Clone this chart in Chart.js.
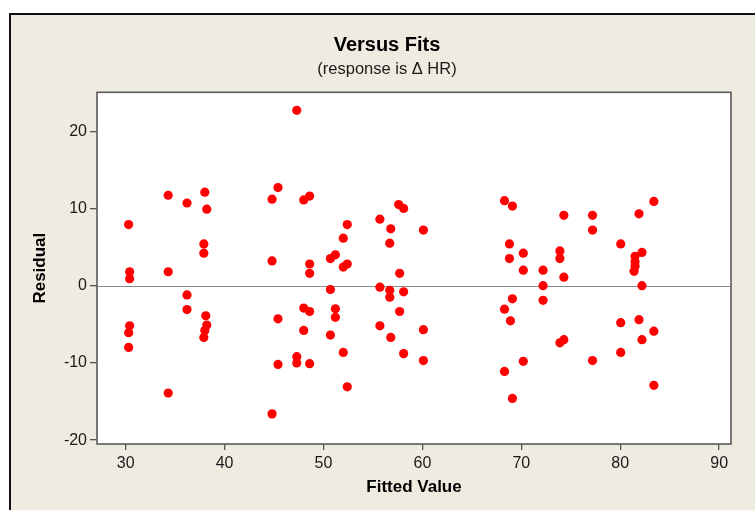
<!DOCTYPE html>
<html>
<head>
<meta charset="utf-8">
<script src="https://cdn.jsdelivr.net/npm/chart.js@4"></script>
<style>
  html, body { margin: 0; padding: 0; background: #ffffff; overflow: hidden; }
  #wrap { position: relative; width: 755px; height: 510px; }
  #frame { position: absolute; left: 9px; top: 13px; width: 800px; height: 600px;
           background: #EFEBE1; border-left: 2px solid #111; border-top: 2px solid #111; }
  canvas { position: absolute; left: 0; top: 0; }
</style>
</head>
<body>
<div id="wrap">
  <div id="frame"></div>
  <canvas id="c" width="755" height="510"></canvas>
</div>
<script>
// ---- data ----
const fittedValues = [
  30.3, 30.4, 30.4, 30.4, 30.3, 30.3,
  34.3, 34.3, 34.3,
  36.2, 36.2, 36.2,
  38.0, 38.2, 37.9, 37.9, 38.1, 38.2, 38.0, 37.9,
  44.8, 45.4, 44.8, 45.4, 45.4, 44.8,
  47.3, 47.3, 47.3,
  48.0, 48.0, 48.0,
  48.6, 48.6, 48.6, 48.6, 48.6,
  50.7, 50.7, 50.7,
  51.2, 51.2, 51.2,
  52.0, 52.0, 52.0,
  52.4, 52.4, 52.4,
  55.7, 55.7, 55.7,
  56.8, 56.7, 56.7, 56.7, 56.8,
  57.6, 58.1, 57.7, 57.7, 58.1, 58.1,
  60.1, 60.1, 60.1,
  68.3, 68.3, 68.3,
  69.1, 68.8, 68.8, 69.1, 68.9, 69.1,
  70.2, 70.2, 70.2,
  72.2, 72.2, 72.2,
  74.3, 73.9, 73.9, 74.3, 74.3, 73.9,
  77.2, 77.2, 77.2,
  80.05, 80.05, 80.05,
  81.9, 82.2, 81.5, 81.5, 81.5, 81.4, 82.2, 81.9, 82.2,
  83.4, 83.4, 83.4
];
const residuals = [
  7.9, 1.8, 0.9, -5.2, -6.1, -8.0,
  11.7, 1.8, -13.9,
  10.7, -1.2, -3.1,
  12.1, 9.9, 5.4, 4.2, -3.9, -5.1, -5.8, -6.7,
  11.2, 12.7, 3.2, -4.3, -10.2, -16.6,
  22.7, -9.2, -10.0,
  11.1, -2.9, -5.8,
  11.6, 2.8, 1.6, -3.35, -10.1,
  3.5, -0.5, -6.4,
  4.0, -3.0, -4.1,
  6.15, 2.4, -8.65,
  7.9, 2.8, -13.1,
  8.6, -0.2, -5.2,
  7.35, 5.5, -0.6, -1.5, -6.7,
  10.5, 10.0, 1.6, -3.35, -0.8, -8.8,
  7.2, -5.7, -9.7,
  11.0, -3.05, -11.1,
  10.3, 5.4, 3.5, -1.7, -4.55, -14.6,
  4.2, 2.0, -9.8,
  2.0, 0.0, -1.9,
  9.1, 4.5, 3.5, 1.1, -7.0, -7.4,
  9.1, 7.2, -9.7,
  5.4, -4.8, -8.65,
  9.3, 4.3, 3.8, 3.1, 2.5, 1.85, 0.0, -4.4, -7.0,
  10.9, -5.9, -12.9
];
const xTickValues = [30, 40, 50, 60, 70, 80, 90];
const yTickValues = [-20, -10, 0, 10, 20];
const titleText = 'Versus Fits';
const subtitleText = '(response is \u0394 HR)';
const xTitle = 'Fitted Value';
const yTitle = 'Residual';

const points = fittedValues.map((x, i) => ({ x: x, y: residuals[i] }));

const framePlugin = {
  id: 'framePlugin',
  beforeDatasetsDraw(chart) {
    const { ctx, chartArea: a, scales } = chart;
    ctx.save();
    ctx.fillStyle = '#ffffff';
    ctx.fillRect(a.left, a.top, a.right - a.left, a.bottom - a.top);
    const y0 = Math.round(scales.y.getPixelForValue(0)) + 0.5;
    ctx.strokeStyle = '#8a8a8a';
    ctx.lineWidth = 1.2;
    ctx.beginPath();
    ctx.moveTo(a.left, y0);
    ctx.lineTo(a.right, y0);
    ctx.stroke();
    ctx.strokeStyle = '#5a5a5a';
    ctx.lineWidth = 1.6;
    ctx.strokeRect(a.left, a.top, a.right - a.left, a.bottom - a.top);
    ctx.restore();
  }
};

const tickFont = { family: 'Liberation Sans', size: 16 };
const titleFont = { family: 'Liberation Sans', size: 17, weight: 'bold' };

new Chart(document.getElementById('c'), {
  type: 'scatter',
  data: {
    datasets: [{
      data: points,
      backgroundColor: '#ff0000',
      borderColor: '#ff0000',
      borderWidth: 0,
      pointRadius: 4.6,
      pointHoverRadius: 4.6
    }]
  },
  options: {
    responsive: false,
    animation: false,
    devicePixelRatio: 1,
    layout: { padding: { left: 43, right: 24, top: 0, bottom: 0 } },
    plugins: {
      legend: { display: false },
      tooltip: { enabled: false },
      title: {
        display: true, text: titleText, color: '#000',
        font: { family: 'Liberation Sans', size: 20, weight: 'bold' },
        padding: { top: 33, bottom: 0 }
      },
      subtitle: {
        display: true, text: subtitleText, color: '#1a1a1a',
        font: { family: 'Liberation Sans', size: 16.5 },
        padding: { top: 2.2, bottom: 13.3 }
      }
    },
    scales: {
      x: {
        type: 'linear', min: 27.1, max: 91.2,
        afterFit(s) { s.height = 66; },
        afterBuildTicks(s) { s.ticks = xTickValues.map(v => ({ value: v })); },
        border: { display: false },
        grid: { drawOnChartArea: false, drawTicks: true, tickLength: 6, color: '#555', lineWidth: 1.3 },
        ticks: { font: tickFont, color: '#1a1a1a', padding: 4, maxRotation: 0 },
        title: { display: true, text: xTitle, color: '#000', font: titleFont, padding: { top: 0, bottom: 12.8 } }
      },
      y: {
        type: 'linear', min: -20.5, max: 25.03,
        afterFit(s) { s.width = 54; },
        afterBuildTicks(s) { s.ticks = yTickValues.map(v => ({ value: v })); },
        border: { display: false },
        grid: { drawOnChartArea: false, drawTicks: true, tickLength: 7, color: '#555', lineWidth: 1.3 },
        ticks: { font: tickFont, color: '#1a1a1a', padding: 3 },
        title: { display: true, text: yTitle, color: '#000', font: titleFont, padding: { top: -12.5, bottom: 0 } }
      }
    }
  },
  plugins: [framePlugin]
});
</script>
</body>
</html>
